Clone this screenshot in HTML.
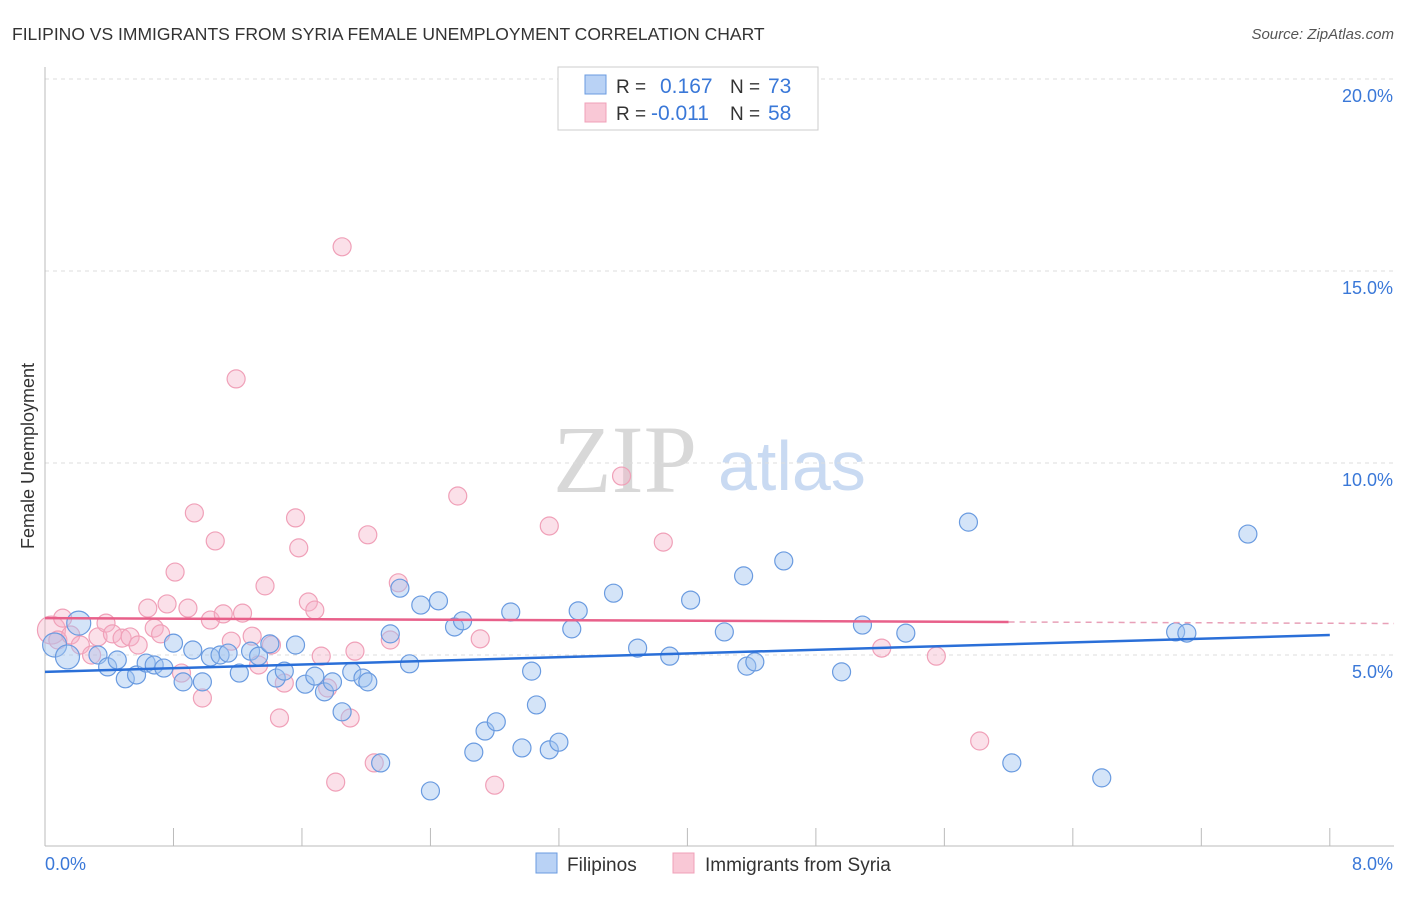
<!DOCTYPE html>
<html><head><meta charset="utf-8"><style>
body{margin:0;background:#fff;font-family:"Liberation Sans",sans-serif;}
</style></head><body>
<svg width="1406" height="892" xmlns="http://www.w3.org/2000/svg">
<text x="12" y="40" font-size="17.5" fill="#333">FILIPINO VS IMMIGRANTS FROM SYRIA FEMALE UNEMPLOYMENT CORRELATION CHART</text>
<text x="1394" y="39" font-size="15" fill="#555" font-style="italic" text-anchor="end">Source: ZipAtlas.com</text>
<g>
<text x="553" y="492" font-size="96" fill="#d8d8d8" font-family="Liberation Serif, serif">ZIP</text>
<text x="718" y="490" font-size="70" fill="#c9daf2">atlas</text>
</g>
<g id="grid"></g>
<g id="axes"></g>
<g id="marks"></g>
<g>
<rect x="558" y="67" width="260" height="63" fill="#fff" stroke="#ccc"/>
<rect x="585" y="75" width="21" height="19" fill="#b9d2f5" stroke="#6a9be0"/>
<rect x="585" y="103" width="21" height="19" fill="#f9c8d6" stroke="#f0a0b8"/>
<text x="616" y="93" font-size="19" fill="#333">R = </text><text x="660" y="93" font-size="21" fill="#3a78d8">0.167</text>
<text x="730" y="93" font-size="19" fill="#333">N = </text><text x="768" y="93" font-size="21" fill="#3a78d8">73</text>
<text x="616" y="120" font-size="19" fill="#333">R = </text><text x="651" y="120" font-size="21" fill="#3a78d8">-0.011</text>
<text x="730" y="120" font-size="19" fill="#333">N = </text><text x="768" y="120" font-size="21" fill="#3a78d8">58</text>
</g>
<g>
<rect x="536" y="853" width="21" height="20" fill="#b9d2f5" stroke="#6a9be0"/>
<text x="567" y="871" font-size="19" fill="#333">Filipinos</text>
<rect x="673" y="853" width="21" height="20" fill="#f9c8d6" stroke="#f0a0b8"/>
<text x="705" y="871" font-size="19" fill="#333">Immigrants from Syria</text>
</g>
<text transform="translate(34,456) rotate(-90)" font-size="18" fill="#333" text-anchor="middle">Female Unemployment</text>
</svg>
<script>
const yTicks=[5,10,15,20];
const yTickLabels=["5.0%","10.0%","15.0%","20.0%"];
const blueX=[0.06,0.14,0.21,0.33,0.39,0.45,0.50,0.57,0.63,0.68,0.74,0.80,0.86,0.92,0.98,1.03,1.09,1.14,1.21,1.28,1.33,1.40,1.44,1.49,1.56,1.62,1.68,1.74,1.79,1.85,1.91,1.98,2.01,2.09,2.15,2.21,2.27,2.34,2.40,2.45,2.55,2.60,2.67,2.74,2.81,2.90,2.97,3.03,3.06,3.14,3.20,3.28,3.32,3.54,3.69,3.89,4.02,4.23,4.35,4.37,4.42,4.60,4.96,5.09,5.36,5.75,6.02,6.58,7.04,7.11,7.49];
const blueY=[5.26,4.95,5.83,5.0,4.69,4.87,4.38,4.48,4.79,4.74,4.66,5.31,4.30,5.13,4.30,4.95,5.0,5.05,4.53,5.10,4.97,5.29,4.40,4.58,5.26,4.24,4.45,4.04,4.30,3.52,4.56,4.40,4.30,2.19,5.55,6.74,4.77,6.30,1.46,6.41,5.73,5.89,2.47,3.02,3.26,6.12,2.58,4.58,3.70,2.53,2.73,5.68,6.15,6.61,5.18,4.97,6.43,5.60,7.06,4.71,4.82,7.45,4.56,5.78,5.57,8.46,2.19,1.80,5.60,5.57,8.15];
const pinkX=[0.04,0.08,0.11,0.16,0.22,0.29,0.33,0.38,0.42,0.48,0.53,0.58,0.64,0.68,0.72,0.76,0.81,0.85,0.89,0.93,0.98,1.03,1.06,1.11,1.16,1.19,1.23,1.29,1.33,1.37,1.41,1.46,1.49,1.56,1.58,1.64,1.68,1.72,1.76,1.81,1.85,1.90,1.93,2.01,2.05,2.15,2.20,2.57,2.71,2.80,3.14,3.59,3.85,5.21,5.55,5.82];
const pinkY=[5.65,5.39,5.96,5.52,5.26,5.0,5.47,5.83,5.55,5.44,5.47,5.26,6.22,5.70,5.55,6.33,7.16,4.53,6.22,8.70,3.88,5.91,7.97,6.07,5.36,12.19,6.09,5.49,4.74,6.80,5.26,3.36,4.27,8.57,7.79,6.38,6.17,4.97,4.14,1.69,15.63,3.36,5.10,8.13,2.19,5.39,6.88,9.14,5.42,1.61,8.36,9.66,7.94,5.18,4.97,2.76];
const blueTrend=[4.56,5.52];
const pinkTrend=[5.96,5.86,5.82];
const xS=v=>45+v*160.6, yS=v=>847-v*38.4;
const NS="http://www.w3.org/2000/svg";
function mk(t,a,p){const e=document.createElementNS(NS,t);for(const k in a)e.setAttribute(k,a[k]);p.appendChild(e);return e;}
const grid=document.getElementById('grid'),axes=document.getElementById('axes'),marks=document.getElementById('marks');
yTicks.forEach((t,i)=>{
 const l=mk('line',{x1:45,x2:1394,y1:yS(t),y2:yS(t),stroke:'#ddd','stroke-dasharray':'4,4'},grid);
 
 
 const tx=mk('text',{x:1393,y:yS(t)+23,'font-size':18,fill:'#3a78d8','text-anchor':'end'},axes);
 tx.textContent=yTickLabels[i];
 
 
});
const ax=mk('line',{x1:45,x2:45,y1:67,y2:846,stroke:'#bbb'},axes);


const bx=mk('line',{x1:45,x2:1394,y1:846,y2:846,stroke:'#bbb'},axes);


for(let i=0;i<=10;i++){const tk=mk('line',{x1:xS(i*0.8),x2:xS(i*0.8),y1:828,y2:846,stroke:'#bbb'},axes);
 
 }
const x0=mk('text',{x:45,y:870,'font-size':18,fill:'#3a78d8'},axes);x0.textContent='0.0%';


const x8=mk('text',{x:1393,y:870,'font-size':18,fill:'#3a78d8','text-anchor':'end'},axes);x8.textContent='8.0%';


pinkX.forEach((x,i)=>{const c=mk('circle',{cx:xS(x),cy:yS(pinkY[i]),r:i==0?14:9,fill:'rgba(246,178,200,0.4)',stroke:'#f0a0b8','stroke-width':1.2},marks);
 
 });
blueX.forEach((x,i)=>{const c=mk('circle',{cx:xS(x),cy:yS(blueY[i]),r:(i<3)?12:9,fill:'rgba(160,195,240,0.45)',stroke:'#6a9be0','stroke-width':1.2},marks);
 
 });
const bt=mk('line',{x1:xS(0),y1:yS(blueTrend[0]),x2:xS(8),y2:yS(blueTrend[1]),stroke:'#2a6fd8','stroke-width':2.5},marks);


const pt=mk('line',{x1:xS(0),y1:yS(pinkTrend[0]),x2:xS(6),y2:yS(pinkTrend[1]),stroke:'#e8608a','stroke-width':2.5},marks);


const pd=mk('line',{x1:xS(6),y1:yS(pinkTrend[1]),x2:xS(8.4),y2:yS(pinkTrend[2]),stroke:'#e8a0b8','stroke-width':1.5,'stroke-dasharray':'6,5'},marks);


</script>
</body></html>
